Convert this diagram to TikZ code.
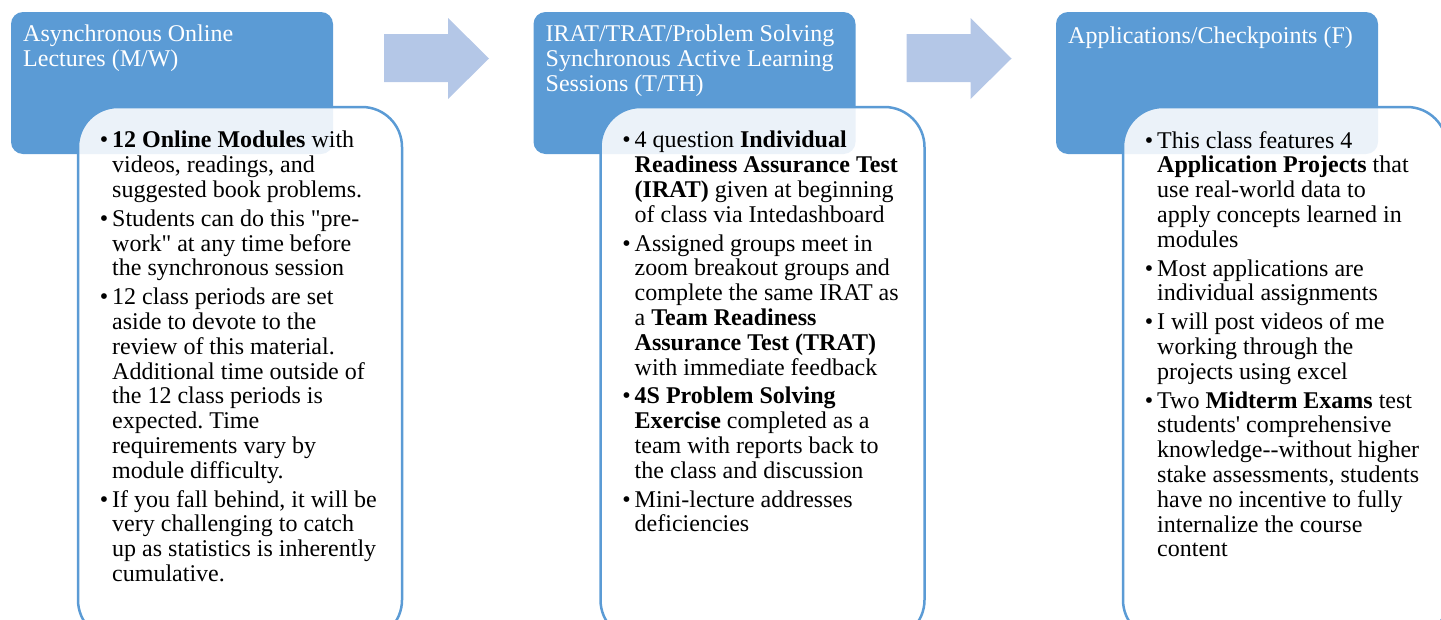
\documentclass[tikz,border=0pt]{standalone}
\usepackage{fontspec}
\setmainfont{Liberation Serif}[Ligatures=TeXOff]
\frenchspacing
\definecolor{headblue}{HTML}{5B9BD5}
\definecolor{flowblue}{HTML}{B4C7E7}
\newcommand\itemdot{\llap{\textbullet\hspace{4pt}}}
\tikzset{
        headbox/.style={fill=headblue, rounded corners=12pt, minimum width=322pt, minimum height=142pt, inner sep=0},
        listbox/.style={fill=white, fill opacity=0.88, draw=headblue, line width=2.5pt, rounded corners=40pt,
                minimum width=324pt, minimum height=533pt, inner sep=0},
        title/.style={anchor=north west, inner sep=0, align=left, text=white,
                font=\fontsize{24}{25}\selectfont, execute at begin node=\rule{0pt}{18pt}},
        points/.style={anchor=north west, inner sep=0, align=left,
                font=\fontsize{24}{24.8}\selectfont, execute at begin node=\rule{0pt}{18pt}},
        flow/.style={fill=flowblue}
}
\begin{document}
\begin{tikzpicture}[x=1pt, y=-1pt]
        \useasboundingbox (0,0) rectangle (1441,619);
        \foreach \i in {0,1} {
                \fill[flow, xshift={522.5pt*\i}] (384,34) -- (448,34) -- (448,18) -- (489,58.5)
                        -- (448,99) -- (448,82) -- (384,82) -- cycle;
            }
        \foreach \i in {0,1,2} {
                \node[headbox] (head\i) at (172+522.5*\i,83) {};
            }
        \node[title] (title0) at (23,25) {Asynchronous Online\\Lectures (M/W)};
        \node[title] (title1) at (545.5,25) {IRAT/TRAT/Problem Solving\\Synchronous Active Learning\\Sessions (T/TH)};
        \node[title] (title2) at (1068,25) {Applications/Checkpoints (F)};
        \foreach \i in {0,1,2} {
                \node[listbox] (list\i) at (240+522.5*\i,373.5) {};
            }
        \node[points] (points0) at (112,131) {%
                \itemdot\textbf{12 Online Modules} with\\
                videos, readings, and\\
                suggested book problems.\\[4pt]
                \itemdot Students can do this "pre-\\
                work" at any time before\\
                the synchronous session\\[4pt]
                \itemdot 12 class periods are set\\
                aside to devote to the\\
                review of this material.\\
                Additional time outside of\\
                the 12 class periods is\\
                expected. Time\\
                requirements vary by\\
                module difficulty.\\[4pt]
                \itemdot If you fall behind, it will be\\
                very challenging to catch\\
                up as statistics is inherently\\
                cumulative.};
        \node[points] (points1) at (634.5,131) {%
                \itemdot 4 question \textbf{Individual}\\
                \textbf{Readiness Assurance Test}\\
                \textbf{(IRAT)} given at beginning\\
                of class via Intedashboard\\[4pt]
                \itemdot Assigned groups meet in\\
                zoom breakout groups and\\
                complete the same IRAT as\\
                a \textbf{Team Readiness}\\
                \textbf{Assurance Test (TRAT)}\\
                with immediate feedback\\[4pt]
                \itemdot\textbf{4S Problem Solving}\\
                \textbf{Exercise} completed as a\\
                team with reports back to\\
                the class and discussion\\[4pt]
                \itemdot Mini-lecture addresses\\
                deficiencies};
        \node[points] (points2) at (1157,131) {%
                \itemdot This class features 4\\
                \textbf{Application Projects} that\\
                use real-world data to\\
                apply concepts learned in\\
                modules\\[4pt]
                \itemdot Most applications are\\
                individual assignments\\[4pt]
                \itemdot I will post videos of me\\
                working through the\\
                projects using excel\\[4pt]
                \itemdot Two \textbf{Midterm Exams} test\\
                students' comprehensive\\
                knowledge--without higher\\
                stake assessments, students\\
                have no incentive to fully\\
                internalize the course\\
                content};
    \end{tikzpicture}
\end{document}
